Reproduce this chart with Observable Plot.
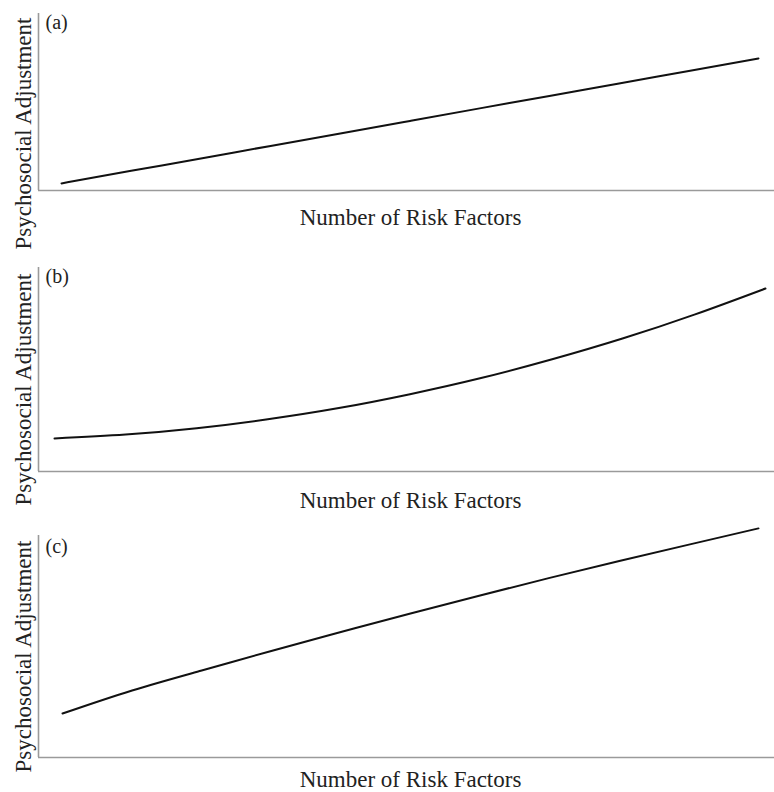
<!DOCTYPE html>
<html>
<head>
<meta charset="utf-8">
<script src="https://cdn.jsdelivr.net/npm/d3@7"></script>
<script src="https://cdn.jsdelivr.net/npm/@observablehq/plot@0.6"></script>
<style>
  html, body { margin: 0; padding: 0; background: white; }
  svg { display: block; }
</style>
</head>
<body>
<div id="chart"></div>
<script>
const riskFactors = [0, 1, 2, 3, 4, 5, 6, 7, 8, 9, 10];
const adjustmentA = [4.0, 11.1, 18.1, 25.2, 32.2, 39.3, 46.4, 53.4, 60.5, 67.5, 74.6];
const adjustmentB = [16.2, 18.1, 21.2, 25.6, 31.1, 37.9, 45.8, 55.0, 65.3, 76.9, 89.7];
const adjustmentC = [19.8, 30.2, 39.2, 48.0, 56.5, 64.9, 73.0, 80.9, 88.5, 95.9, 103.2];
const panelLabels = ["(a)", "(b)", "(c)"];
const xLabel = "Number of Risk Factors";
const yLabel = "Psychosocial Adjustment";

const font = "'Liberation Serif', 'Times New Roman', Times, serif";

const panels = [
  {values: adjustmentA, label: panelLabels[0], height: 250, mt: 13, mb: 60, xdom: [-0.33, 10.23], ydy: 31.5, xdy: 34, ldy: 15},
  {values: adjustmentB, label: panelLabels[1], height: 270, mt: 17, mb: 49, xdom: [-0.225, 10.127], ydy: 20, xdy: 36, ldy: 15},
  {values: adjustmentC, label: panelLabels[2], height: 272, mt: 15, mb: 35, xdom: [-0.345, 10.23], ydy: 10, xdy: 29, ldy: 17}
];

const root = document.getElementById("chart");
for (const p of panels) {
  const data = riskFactors.map((x, i) => ({x, y: p.values[i]}));
  const svg = Plot.plot({
    width: 774,
    height: p.height,
    marginLeft: 38,
    marginRight: 0,
    marginTop: p.mt,
    marginBottom: p.mb,
    style: {fontFamily: font, background: "white", color: "#222"},
    x: {domain: p.xdom, axis: null},
    y: {domain: [0, 100], axis: null},
    marks: [
      Plot.ruleY([0], {stroke: "#9a9a9a", strokeWidth: 1.6}),
      Plot.ruleX([p.xdom[0]], {stroke: "#9a9a9a", strokeWidth: 1.6}),
      Plot.line(data, {x: "x", y: "y", curve: "natural", stroke: "#111", strokeWidth: 2}),
      Plot.text([p.label], {text: d => d, frameAnchor: "top-left", textAnchor: "start", lineAnchor: "bottom", dx: 7, dy: p.ldy, fontSize: 20, fill: "#222"}),
      Plot.text([xLabel], {text: d => d, frameAnchor: "bottom", textAnchor: "middle", lineAnchor: "bottom", dx: 4, dy: p.xdy, fontSize: 23, fill: "#222"}),
      Plot.text([yLabel], {text: d => d, frameAnchor: "left", textAnchor: "middle", rotate: -90, lineAnchor: "bottom", dx: -8, dy: p.ydy, fontSize: 23, fill: "#222"})
    ]
  });
  root.appendChild(svg);
}
</script>
</body>
</html>
